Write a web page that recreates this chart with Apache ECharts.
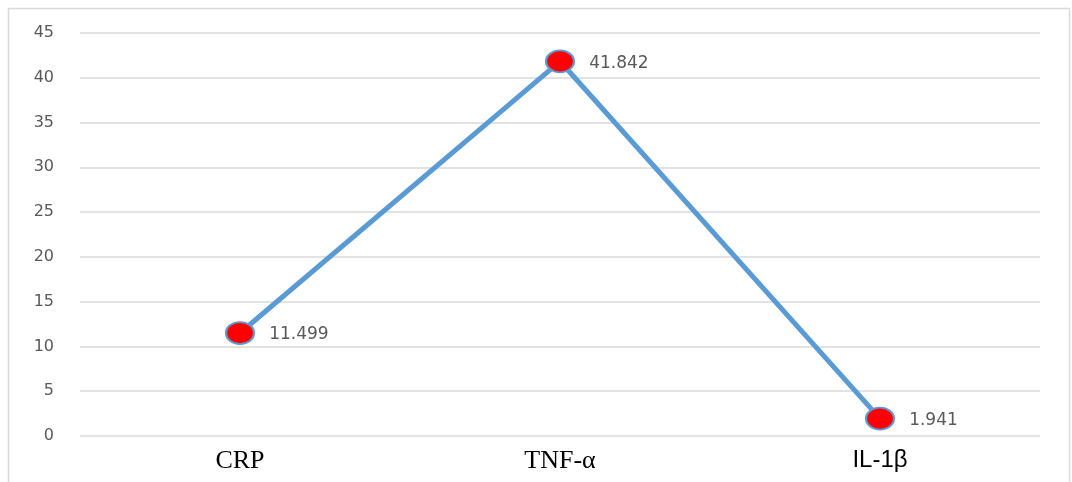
<!DOCTYPE html>
<html>
<head>
<meta charset="utf-8">
<script src="https://cdn.jsdelivr.net/npm/echarts@6/dist/echarts.min.js"></script>
<style>
  html, body { margin: 0; padding: 0; background: #fff; }
  #chart { width: 1072px; height: 482px; }
</style>
</head>
<body>
<div id="chart"></div>
<script>
// Inflammatory markers
const categories = ['CRP', 'TNF-α', 'IL-1β'];
const values = [11.499, 41.842, 1.941];
const yTicks = [0, 5, 10, 15, 20, 25, 30, 35, 40, 45];

// Category labels: CRP and TNF-α in a serif face, IL-1β in a sans face
const serifCats = ['CRP', 'TNF-α'];

const chart = echarts.init(document.getElementById('chart'));
chart.setOption({
  animation: false,
  backgroundColor: '#ffffff',
  graphic: [{
    type: 'rect',
    shape: { x: 8.5, y: 8.5, width: 1061, height: 480 },
    style: { fill: 'none', stroke: '#d9d9d9', lineWidth: 1.5 },
    silent: true
  }],
  grid: { left: 80, right: 32, top: 33, bottom: 46 },
  xAxis: {
    type: 'category',
    data: categories,
    boundaryGap: true,
    axisLine: { show: false },
    axisTick: { show: false },
    axisLabel: {
      margin: 12,
      formatter: v => serifCats.includes(v) ? '{s|' + v + '}' : '{n|' + v + '}',
      rich: {
        s: { fontFamily: 'Liberation Serif', fontSize: 26, color: '#000000' },
        n: { fontFamily: 'Liberation Sans', fontSize: 24, color: '#000000' }
      }
    }
  },
  yAxis: {
    type: 'value',
    min: yTicks[0],
    max: yTicks[yTicks.length - 1],
    interval: 5,
    axisLine: { show: false },
    axisTick: { show: false },
    axisLabel: {
      margin: 26,
      color: '#595959',
      fontFamily: 'DejaVu Sans',
      fontSize: 16
    },
    splitLine: { lineStyle: { color: '#d9d9d9', width: 1.5 } }
  },
  series: [{
    type: 'line',
    data: values,
    symbol: 'circle',
    symbolSize: [28, 22],
    lineStyle: { color: '#5b9bd5', width: 5 },
    itemStyle: { color: '#ff0000', borderColor: '#5b9bd5', borderWidth: 2 },
    label: {
      show: true,
      position: 'right',
      distance: 14,
      offset: [0, 2],
      color: '#595959',
      fontFamily: 'DejaVu Sans',
      fontSize: 17,
      formatter: p => p.value.toFixed(3)
    },
    z: 3
  }]
});
</script>
</body>
</html>
